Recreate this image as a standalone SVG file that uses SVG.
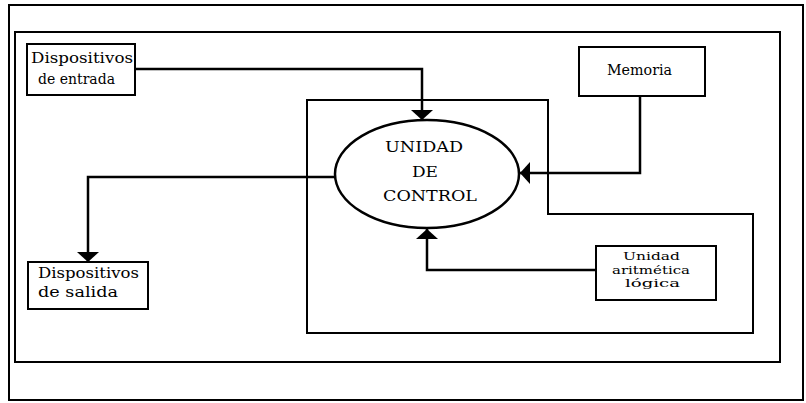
<svg xmlns="http://www.w3.org/2000/svg" width="806" height="403" viewBox="0 0 806 403">
<style>
.frame{fill:none;stroke:#000;stroke-width:2}
.box{fill:#fff;stroke:#000;stroke-width:2}
.conn{fill:none;stroke:#000;stroke-width:2.5}
text{font-family:"DejaVu Serif","Liberation Serif",serif;fill:#000}
.t{font-size:14px}
.s{font-size:11px}
.c{font-size:14px;text-anchor:middle}
</style>
<defs>
<marker id="ah" viewBox="0 0 10 22" refX="10" refY="11" markerWidth="10" markerHeight="22" markerUnits="userSpaceOnUse" orient="auto">
<path d="M0,0 L10,11 L0,22 Z" fill="#000"/>
</marker>
</defs>
<rect x="0" y="0" width="806" height="403" fill="#fff"/>
<g id="frames">
<rect class="frame" x="9" y="5" width="794" height="395"/>
<rect class="frame" x="15" y="32" width="765" height="330" stroke-width="1.5"/>
<polygon class="frame" points="307,100 548,100 548,214 753,214 753,333 307,333"/>
</g>
<g id="connectors">
<path class="conn" d="M135,69 H422 V120" marker-end="url(#ah)"/>
<path class="conn" d="M640,96 V173 H520" marker-end="url(#ah)"/>
<path class="conn" d="M596,270 H427 V229" marker-end="url(#ah)"/>
<path class="conn" d="M335,177 H88 V262" marker-end="url(#ah)"/>
</g>
<g id="control">
<ellipse cx="427" cy="174" rx="92" ry="54" fill="#fff" stroke="#000" stroke-width="2.5"/>
<text class="c" x="424" y="152" textLength="78" lengthAdjust="spacingAndGlyphs">UNIDAD</text>
<text class="c" x="425" y="177" textLength="26" lengthAdjust="spacingAndGlyphs">DE</text>
<text class="c" x="430" y="201" textLength="94" lengthAdjust="spacingAndGlyphs">CONTROL</text>
</g>
<g id="entrada">
<rect class="box" x="27" y="44" width="108" height="51"/>
<text class="t" x="31" y="63" textLength="102" lengthAdjust="spacingAndGlyphs">Dispositivos</text>
<text class="t" x="38" y="84" textLength="77" lengthAdjust="spacingAndGlyphs">de entrada</text>
</g>
<g id="memoria">
<rect class="box" x="579" y="47" width="126" height="49"/>
<text class="t" x="607" y="75" textLength="65" lengthAdjust="spacingAndGlyphs">Memoria</text>
</g>
<g id="salida">
<rect class="box" x="28" y="262" width="120" height="47"/>
<text class="t" x="38" y="278" textLength="101" lengthAdjust="spacingAndGlyphs">Dispositivos</text>
<text class="t" x="38" y="297" textLength="80" lengthAdjust="spacingAndGlyphs">de  salida</text>
</g>
<g id="alu">
<rect class="box" x="596" y="246" width="120" height="54"/>
<text class="s" x="623" y="260" textLength="57" lengthAdjust="spacingAndGlyphs">Unidad</text>
<text class="s" x="612" y="273.5" textLength="78" lengthAdjust="spacingAndGlyphs">aritmética</text>
<text class="s" x="625" y="287" textLength="55" lengthAdjust="spacingAndGlyphs">lógica</text>
</g>
</svg>
